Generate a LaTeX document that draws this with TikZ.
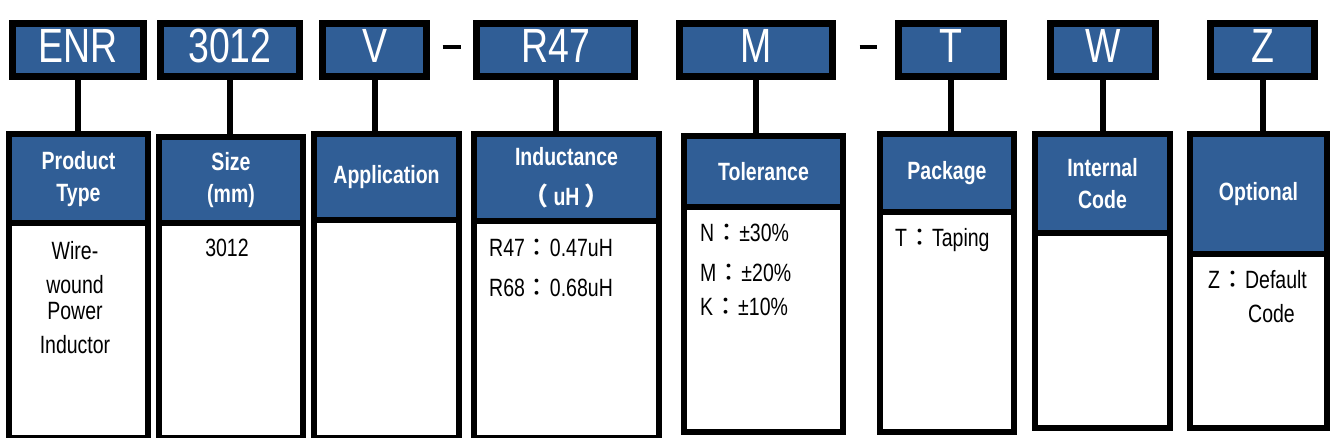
\documentclass[tikz,border=0pt]{standalone}
\usepackage{fontspec}
\setmainfont{Liberation Sans}[FakeStretch=0.78]
\newfontfamily\fwfont{Noto Sans CJK JP}
\newcommand{\fw}[1]{{\fwfont #1}}
\usepackage{tikz}
\usetikzlibrary{positioning, calc}
\definecolor{codeblue}{RGB}{48, 94, 150}

\begin{document}
\begin{tikzpicture}[x=1pt, y=-1pt,
    codebox/.style={draw=black, fill=codeblue, line width=7pt, text=white,
      inner sep=0pt, minimum height=53pt, text depth=8pt,
      font=\fontsize{48}{48}\selectfont},
    headbox/.style={draw=black, fill=codeblue, line width=6pt, text=white,
      inner sep=0pt, align=center, font=\bfseries\fontsize{25}{32}\selectfont},
    bodybox/.style={draw=black, fill=white, line width=6pt, inner sep=0pt},
    bodytxt/.style={inner sep=0pt, font=\fontsize{25}{31}\selectfont},
    drop/.style={line width=6pt},
    sep/.style={line width=4pt}]
  \useasboundingbox (0,0) rectangle (1335,438);

  \foreach \txt/\xa/\xb [count=\i] in {ENR/9/147, 3012/157/303, V/319/430,
      R47/473/638, M/676/836, T/895/1007, W/1047/1159, Z/1207/1318}{
    \node[codebox, minimum width={\xb-\xa-7}] (code\i) at ({(\xa+\xb)/2}, 50) {\txt};
  }

  \foreach \head/\xa/\xb/\ya/\ym/\yb [count=\i] in {
      {Product\\Type}/9/148/134/223.5/438,
      {Size\\(mm)}/159/303/137/223/438,
      Application/314/459/134/220/438,
      {Inductance\\[8pt]\fw{（} uH \fw{）}}/474/659/134/221/438,
      Tolerance/684/843/136/207/432,
      Package/880/1014/134/212/432,
      {Internal\\Code}/1035/1170/134/233/428,
      Optional/1190/1327/134/254/428}{
    \node[headbox, minimum width={\xb-\xa}, minimum height={\ym-\ya}]
      (head\i) at ({(\xa+\xb)/2}, {(\ya+\ym)/2}) {\head};
    \node[bodybox, minimum width={\xb-\xa}, minimum height={\yb-\ym}]
      (body\i) at ({(\xa+\xb)/2}, {(\ym+\yb)/2}) {};
  }

  \foreach \i in {1,...,8}
    \draw[drop] (code\i.south) -- (code\i.south |- head\i.north);

  \draw[sep] ([xshift=12.5pt, yshift=3pt]code3.east) -- ([xshift=-12.5pt, yshift=3pt]code4.west);
  \draw[sep] ([xshift=23.5pt, yshift=3pt]code5.east) -- ([xshift=-18.5pt, yshift=3pt]code6.west);

  \node[bodytxt, align=center, anchor=north] (type) at (75,241)
    {Wire-\\[3pt]wound\\[-5pt]Power\\[3pt]Inductor};
  \node[bodytxt, anchor=base] (size) at (227,257) {3012};
  \node[bodytxt, anchor=base west] (ind1) at (489,257) {R47\fw{：}0.47uH};
  \node[bodytxt, anchor=base west] (ind2) at (489,296) {R68\fw{：}0.68uH};
  \node[bodytxt, anchor=base west] (tol1) at (700,242) {N\fw{：}±30\%};
  \node[bodytxt, anchor=base west] (tol2) at (700,281) {M\fw{：}±20\%};
  \node[bodytxt, anchor=base west] (tol3) at (700,315) {K\fw{：}±10\%};
  \node[bodytxt, anchor=base west] (pack) at (895,247) {T\fw{：}Taping};
  \node[bodytxt, anchor=base west] (opt1) at (1208,288) {Z\fw{：}Default};
  \node[bodytxt, anchor=base west] (opt2) at (1248,322) {Code};
\end{tikzpicture}
\end{document}
